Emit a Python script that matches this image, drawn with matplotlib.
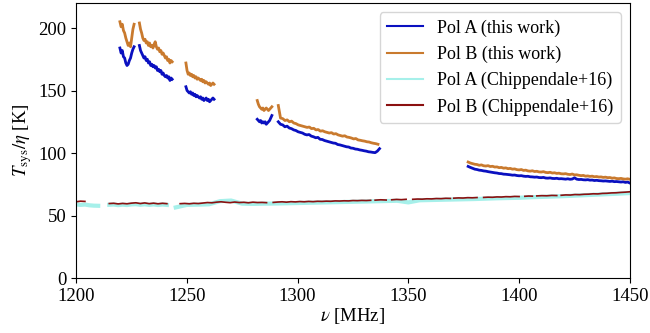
import numpy as np
import matplotlib
matplotlib.use("Agg")
import matplotlib.pyplot as plt

plt.rcParams['font.family'] = ['Liberation Serif', 'DejaVu Serif']
plt.rcParams['mathtext.fontset'] = 'stix'
plt.rcParams['font.size'] = 13.5

# this work: segments (start MHz, end MHz, values)
pol_a_segments = [
    (1219.8, 1226.2, [184, 180, 182, 177, 176, 172, 170, 171, 174, 176, 180, 183, 185]),
    (1228.6, 1243.4, [186, 182, 180, 178, 176, 177, 174, 175, 172, 173, 170, 171, 169, 170, 168,
                      169, 166, 167, 165, 166, 163, 164, 162, 161, 162, 160, 161, 158, 160, 159]),
    (1249.6, 1262.3, [153, 150, 149, 148, 149, 147, 148, 146, 147, 145, 146, 145, 144, 145, 143,
                      144, 142, 143, 144, 142, 143, 141, 142, 143, 144, 143]),
    (1281.8, 1288.4, [127, 126, 125, 126, 124, 125, 124, 125, 123, 124, 125, 126, 128, 130]),
    (1291.3, 1337.0, [125, 123, 122.5, 121, 121.5, 120, 119.5, 118.5, 118, 117, 116.5, 116, 115,
                      114.5, 114.8, 113.5, 113, 112.2, 112.5, 111, 110.8, 110, 109.5, 109, 108.5,
                      108, 107.8, 106.8, 106.5, 106, 105.5, 105, 104.8, 104, 103.8, 103.2, 103,
                      102.5, 102.2, 101.8, 101.5, 101, 100.8, 100.5, 100.3, 101.5, 103.5]),
    (1377.0, 1450.0, [89.3, 88.5, 87.8, 87.1, 86.8, 86.3, 86.1, 85.7, 85.5, 85.1,
                      84.8, 84.5, 84.2, 84, 83.6, 83.5, 83.1, 83, 82.8, 82.6,
                      82.3, 82.4, 82, 81.8, 81.9, 81.5, 81.3, 81.4, 81, 80.9,
                      80.7, 80.8, 80.4, 80.3, 80.5, 80, 79.9, 80.1, 79.7, 79.6,
                      79.8, 79.4, 79.5, 79.3, 79.1, 79.4, 79, 79.2, 80.2, 79.1,
                      78.8, 78.9, 78.6, 78.5, 78.7, 78.3, 78.4, 78, 78.2, 77.9,
                      77.8, 77.6, 77.7, 77.5, 77.3, 77.5, 77.1, 77.2, 77, 76.8,
                      77, 76.5, 76.8, 76]),
]

pol_b_segments = [
    (1219.8, 1226.2, [205, 201, 203, 198, 196, 192, 189, 186, 188, 185, 192, 199, 203]),
    (1228.6, 1243.4, [204, 199, 196, 192, 190, 191, 188, 189, 186, 188, 185, 186, 184, 187, 189,
                      185, 183, 184, 181, 182, 179, 180, 178, 176, 177, 174, 175, 172, 174, 173]),
    (1249.6, 1262.3, [172, 166, 163, 164, 162, 163, 161, 162, 160, 161, 159, 160, 159, 158, 159,
                      157, 158, 156, 157, 156, 155, 156, 154, 155, 156, 155]),
    (1281.8, 1288.4, [142, 139, 137, 136, 135, 136, 134, 135, 136, 135, 134, 135, 136, 137]),
    (1291.3, 1336.3, [138, 128, 127.5, 126, 126.5, 125, 125.5, 124, 123.5, 122.5, 122, 121.5, 121,
                      120.5, 120.8, 119.5, 119.8, 118.5, 118.8, 117.5, 117.8, 117, 116.5, 116,
                      116.3, 115.2, 115.5, 114.5, 114, 113.5, 113.8, 112.8, 112.5, 112, 111.3,
                      111.6, 110.5, 110.2, 109.8, 109.5, 109, 108.8, 108.2, 107.8, 107.5, 107]),
    (1377.0, 1450.0, [92.8, 92, 91.5, 91, 90.8, 90.2, 90.5, 89.8, 89.6, 89.9,
                      89.2, 89.4, 88.8, 88.9, 88.3, 88.5, 87.9, 88.1, 87.5, 87.7,
                      87.1, 87.3, 86.7, 86.5, 86.8, 86.1, 86.3, 85.7, 85.5, 85.8,
                      85.2, 85.4, 84.9, 84.8, 85.1, 84.5, 84.3, 84.6, 84, 84.2,
                      83.7, 83.9, 83.4, 83.3, 83.5, 83, 82.8, 83.2, 82.5, 82.6,
                      82.2, 81.9, 82.1, 81.5, 81.7, 81.3, 81.5, 81, 81.2, 80.8,
                      80.9, 80.5, 80.7, 80.3, 80.4, 79.9, 80.1, 79.6, 79.5, 79.7,
                      79.3, 79.1, 79.4, 79]),
]

# Chippendale+16
chip_a_segments = [
    (1200.0, 1210.0, [59, 58.5, 58.8, 58.2, 57.9, 57.8]),
    (1215.0, 1241.0, [58.6, 58.8, 58.3, 58.7, 58.4, 58.9, 59.1, 58.6, 59, 58.5, 58.9, 58.4,
                      58.8, 58.5]),
    (1245.0, 1450.0, [56.5, 58.5, 58.7, 59, 61.5, 62, 59.5, 59.3, 59.5, 59.6, 59.8, 60, 60.2,
                      60.4, 60.6, 60.8, 61, 61.2, 61.4, 61.6, 61.8, 60.5, 62.2, 62.4, 62.6,
                      62.8, 63, 63.2, 63.5, 63.8, 64, 64.2, 64.6, 64.9, 65.2, 65.5, 65.9,
                      66.3, 66.7, 67.1, 67.5, 68]),
]

chip_b_segments = [
    (1200.0, 1204.0, [61, 61.5, 61.3]),
    (1215.0, 1241.0, [59.6, 59.8, 59.3, 59.7, 59.4, 59.9, 60.2, 59.6, 60.1, 59.5, 59.9, 59.4,
                      59.8, 59.5]),
    (1247.0, 1286.0, [59.5, 59.7, 59.4, 59.8, 59.6, 60, 60.4, 60.2, 60.7, 61, 60.6, 60.3, 60.8,
                      60.4, 60.6, 60.2, 60.7, 60.4, 60.5, 60.3]),
    (1289.0, 1333.0, [60.5, 60.8, 61, 60.7, 61.1, 60.9, 61.2, 61, 61.3, 61.1, 61.4, 61.3, 61.5,
                      61.4, 61.7, 61.6, 61.8, 61.7, 62, 61.9, 62.1, 62, 62.2]),
    (1335.0, 1340.0, [62.3, 62.6, 62.4]),
    (1342.5, 1349.0, [62.6, 62.9, 62.7, 63]),
    (1352.0, 1369.0, [63, 63.2, 63.1, 63.4, 63.3, 63.6, 63.5, 63.8, 63.7]),
    (1370.5, 1381.0, [63.9, 64.1, 64, 64.3, 64.2, 64.4]),
    (1384.0, 1400.0, [64.5, 64.7, 64.6, 64.9, 64.8, 65.1, 65, 65.3, 65.2]),
    (1402.6, 1406.0, [65.4, 65.6, 65.5]),
    (1408.0, 1417.0, [65.7, 65.9, 65.8, 66.1, 66]),
    (1419.0, 1450.0, [66.2, 66.5, 66.4, 66.8, 66.7, 67, 67.1, 67.4, 67.3, 67.7, 67.8, 68.1,
                      68.2, 68.5, 68.7, 69]),
]


def join_segments(segments):
    # concatenate segments, NaN between them so the line breaks
    xs, ys = [], []
    for f0, f1, vals in segments:
        xs.extend(np.linspace(f0, f1, len(vals)))
        ys.extend(vals)
        xs.append(np.nan)
        ys.append(np.nan)
    return np.array(xs), np.array(ys)


fig = plt.figure(figsize=(6.5, 3.33), dpi=100)
ax = fig.add_axes([0.117, 0.165, 0.852, 0.826])

x, y = join_segments(pol_a_segments)
ax.plot(x, y, color='#0a10c0', lw=2, label='Pol A (this work)')
x, y = join_segments(pol_b_segments)
ax.plot(x, y, color='#c97a2e', lw=2, label='Pol B (this work)')
x, y = join_segments(chip_a_segments)
ax.plot(x, y, color='#a6f0ea', lw=3, label='Pol A (Chippendale+16)')
x, y = join_segments(chip_b_segments)
ax.plot(x, y, color='#8b1010', lw=1.2, label='Pol B (Chippendale+16)')

ax.set_xlim(1200, 1450)
ax.set_ylim(0, 220)
ax.set_xticks([1200, 1250, 1300, 1350, 1400, 1450])
ax.set_yticks([0, 50, 100, 150, 200])
ax.set_xlabel(r'$\nu$ [MHz]', labelpad=1)
ax.set_ylabel(r'$T_\mathrm{sys}/\eta$ [K]', labelpad=3)
leg = ax.legend(loc='upper right', fontsize=13)
for h in leg.get_lines():
    h.set_linewidth(1.5)

fig.savefig('out.png', dpi=100)
